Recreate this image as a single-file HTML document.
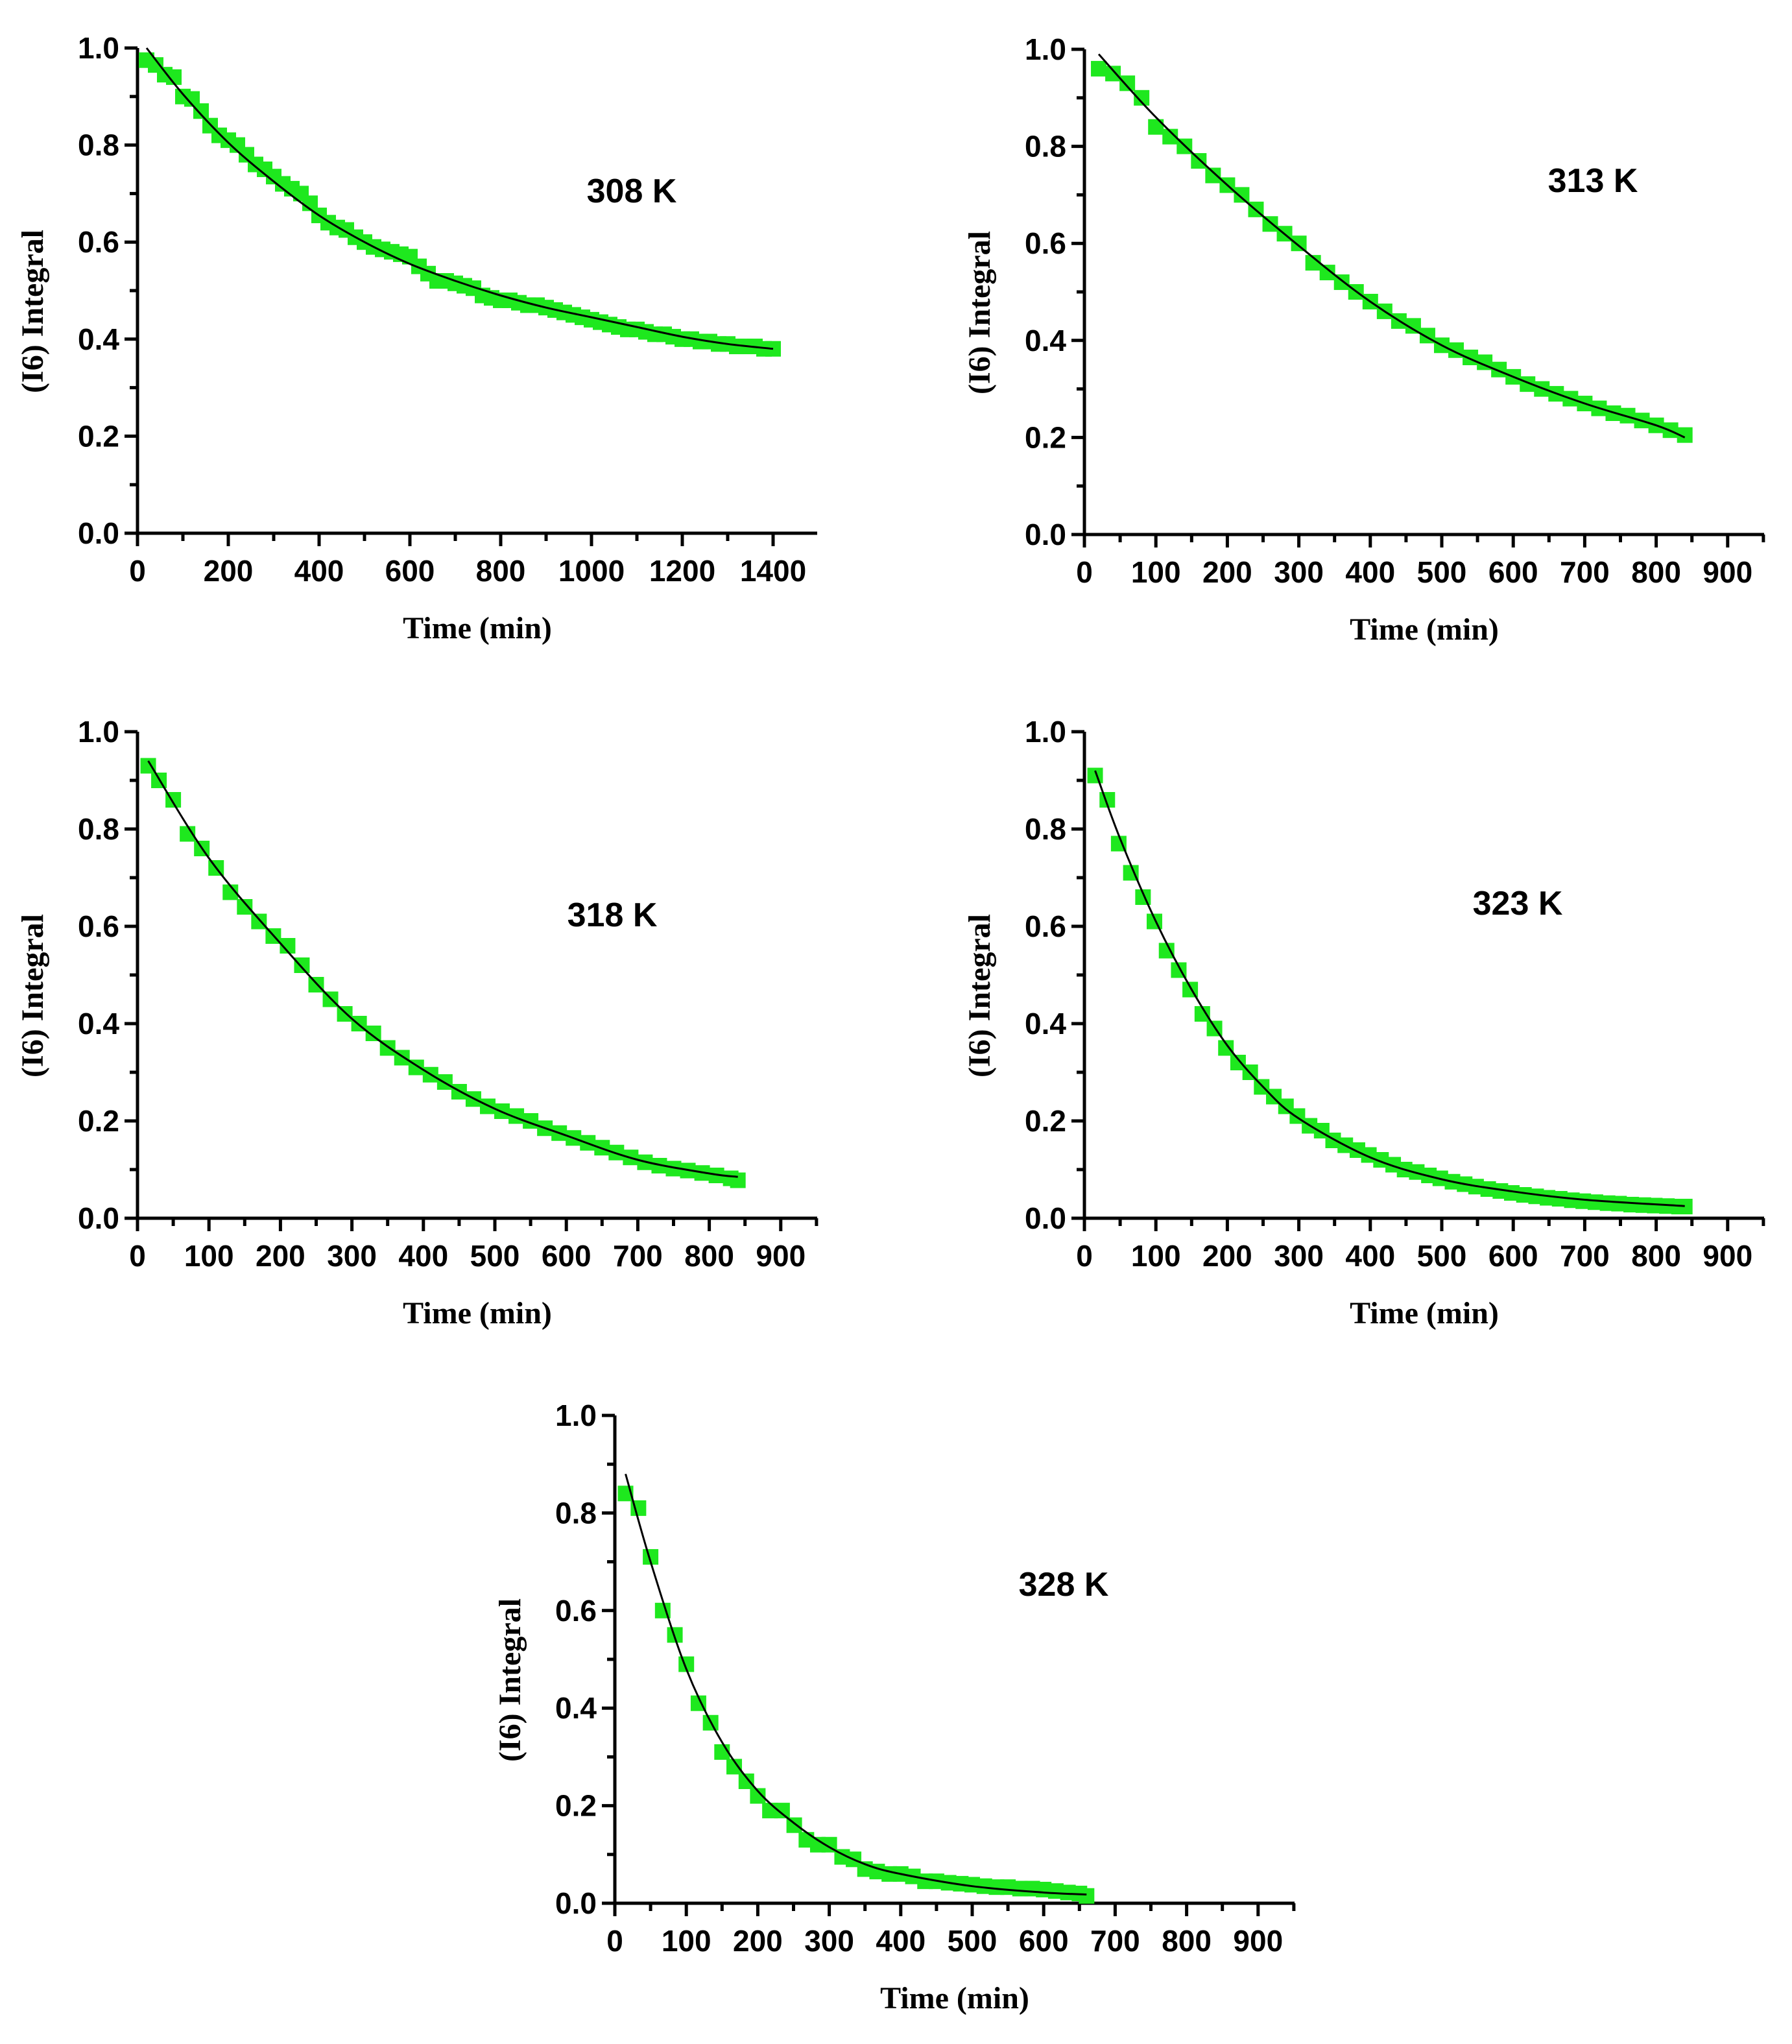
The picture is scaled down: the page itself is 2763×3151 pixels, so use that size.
<!DOCTYPE html>
<html><head><meta charset="utf-8"><style>
html,body{margin:0;padding:0;background:#fff;}
svg{display:block;}
.tk{font-family:"Liberation Sans",Arial,sans-serif;font-weight:bold;font-size:46px;fill:#000;}
.tt{font-family:"Liberation Serif","Times New Roman",serif;font-weight:bold;font-size:48px;fill:#000;}
.lb{font-family:"Liberation Sans",Arial,sans-serif;font-weight:bold;font-size:52px;fill:#000;}
</style></head><body>
<svg id="fig" width="2763" height="3151" viewBox="0 0 2763 3151" xmlns="http://www.w3.org/2000/svg"></svg>
<script>
// ---- data (time in min, integral values) ----
const t308 = [20,40,60,80,100,120,140,160,180,200,220,240,260,280,300,320,340,360,380,400,420,440,460,480,500,520,540,560,580,600,620,640,660,680,700,720,740,760,780,800,820,840,860,880,900,920,940,960,980,1000,1020,1040,1060,1080,1100,1120,1140,1160,1180,1200,1220,1240,1260,1280,1300,1320,1340,1360,1380,1400];
const y308 = [0.975,0.965,0.945,0.94,0.90,0.895,0.87,0.84,0.82,0.81,0.80,0.78,0.76,0.75,0.735,0.72,0.71,0.70,0.68,0.655,0.64,0.63,0.625,0.61,0.60,0.59,0.585,0.58,0.575,0.57,0.55,0.535,0.52,0.52,0.515,0.51,0.505,0.49,0.485,0.48,0.48,0.475,0.47,0.47,0.465,0.46,0.455,0.45,0.445,0.44,0.435,0.43,0.425,0.42,0.42,0.415,0.41,0.41,0.405,0.40,0.40,0.395,0.395,0.39,0.39,0.385,0.385,0.385,0.38,0.38];
const fitT308 = [20,100,200,300,400,500,600,700,800,900,1000,1100,1200,1300,1400];
const fitY308 = [1.0,0.905,0.805,0.725,0.655,0.60,0.555,0.52,0.49,0.465,0.445,0.425,0.405,0.39,0.38];

const t313 = [20,40,60,80,100,120,140,160,180,200,220,240,260,280,300,320,340,360,380,400,420,440,460,480,500,520,540,560,580,600,620,640,660,680,700,720,740,760,780,800,820,840];
const y313 = [0.96,0.95,0.93,0.90,0.84,0.82,0.80,0.77,0.74,0.72,0.70,0.67,0.64,0.62,0.60,0.56,0.54,0.52,0.50,0.48,0.46,0.44,0.43,0.41,0.39,0.38,0.365,0.355,0.34,0.325,0.31,0.30,0.29,0.28,0.27,0.26,0.25,0.245,0.235,0.225,0.215,0.205];
const fitT313 = [20,100,200,300,400,500,600,700,800,840];
const fitY313 = [0.99,0.86,0.72,0.595,0.48,0.39,0.325,0.27,0.225,0.20];

const t318 = [15,30,50,70,90,110,130,150,170,190,210,230,250,270,290,310,330,350,370,390,410,430,450,470,490,510,530,550,570,590,610,630,650,670,690,710,730,750,770,790,810,830,840];
const y318 = [0.93,0.90,0.86,0.79,0.76,0.72,0.67,0.64,0.61,0.58,0.56,0.52,0.48,0.45,0.42,0.40,0.38,0.35,0.33,0.31,0.295,0.28,0.26,0.245,0.23,0.22,0.21,0.20,0.185,0.175,0.165,0.155,0.145,0.135,0.125,0.115,0.108,0.102,0.098,0.093,0.088,0.082,0.078];
const fitT318 = [15,100,200,300,400,500,600,700,800,840];
const fitY318 = [0.94,0.74,0.565,0.41,0.305,0.225,0.17,0.12,0.092,0.085];

const t323 = [15,32,48,65,82,98,115,132,148,165,182,198,215,232,248,265,282,298,315,332,348,365,382,398,415,432,448,465,482,498,515,532,548,565,582,598,615,632,648,665,682,698,715,732,748,765,782,798,815,832,840];
const y323 = [0.91,0.86,0.77,0.71,0.66,0.61,0.55,0.51,0.47,0.42,0.39,0.35,0.32,0.30,0.27,0.25,0.23,0.21,0.19,0.18,0.16,0.15,0.14,0.13,0.12,0.11,0.10,0.095,0.088,0.082,0.075,0.07,0.065,0.06,0.056,0.052,0.048,0.045,0.042,0.04,0.037,0.035,0.033,0.031,0.03,0.028,0.027,0.026,0.025,0.024,0.024];
const fitT323 = [15,50,100,150,200,250,300,400,500,600,700,840];
const fitY323 = [0.92,0.78,0.61,0.47,0.355,0.27,0.205,0.125,0.08,0.055,0.038,0.025];

const t328 = [15,33,50,67,84,100,117,134,150,167,184,200,217,234,251,268,284,300,318,334,350,367,384,400,417,434,450,467,484,500,517,534,550,567,584,600,617,634,650,660];
const y328 = [0.84,0.81,0.71,0.60,0.55,0.49,0.41,0.37,0.31,0.28,0.25,0.22,0.19,0.19,0.16,0.13,0.12,0.12,0.095,0.09,0.07,0.065,0.06,0.06,0.055,0.045,0.045,0.042,0.04,0.038,0.035,0.033,0.033,0.03,0.03,0.028,0.025,0.022,0.02,0.015];
const fitT328 = [15,50,100,150,200,250,300,350,400,500,600,660];
const fitY328 = [0.88,0.70,0.48,0.33,0.23,0.165,0.115,0.08,0.06,0.035,0.022,0.018];

const xTicks1400 = [0,200,400,600,800,1000,1200,1400];
const xTicks900 = [0,100,200,300,400,500,600,700,800,900];
const yTicks = [0.0,0.2,0.4,0.6,0.8,1.0];
const labels = ["308 K","313 K","318 K","323 K","328 K"];

// ---- layout ----
const NS = "http://www.w3.org/2000/svg";
const svg = document.getElementById('fig');
function mk(tag, attrs, parent){const e=document.createElementNS(NS,tag);for(const k in attrs)e.setAttribute(k,attrs[k]);(parent||svg).appendChild(e);return e;}

const panels = [
 {ox:212,oy:822,top:74,xmax:1400,step:200,minor:100,end:1260,ticks:xTicks1400,t:t308,y:y308,ft:fitT308,fy:fitY308,lab:labels[0],lx:974,ly:294,name:'308k'},
 {ox:1672,oy:824,top:76,xmax:900,step:100,minor:50,end:2720,ticks:xTicks900,t:t313,y:y313,ft:fitT313,fy:fitY313,lab:labels[1],lx:2456,ly:278,name:'313k'},
 {ox:212,oy:1878,top:1128,xmax:900,step:100,minor:50,end:1260,ticks:xTicks900,t:t318,y:y318,ft:fitT318,fy:fitY318,lab:labels[2],lx:944,ly:1410,name:'318k'},
 {ox:1672,oy:1878,top:1128,xmax:900,step:100,minor:50,end:2720,ticks:xTicks900,t:t323,y:y323,ft:fitT323,fy:fitY323,lab:labels[3],lx:2340,ly:1392,name:'323k'},
 {ox:948,oy:2934,top:2182,xmax:900,step:100,minor:50,end:1996,ticks:xTicks900,t:t328,y:y328,ft:fitT328,fy:fitY328,lab:labels[4],lx:1640,ly:2442,name:'328k'}
];
const pxPerMin = {1400:140/200, 900:110.2/100};

function smoothPath(pts){
  let d='M'+pts[0][0]+','+pts[0][1];
  for(let i=0;i<pts.length-1;i++){
    const p0=pts[Math.max(0,i-1)],p1=pts[i],p2=pts[i+1],p3=pts[Math.min(pts.length-1,i+2)];
    const c1x=p1[0]+(p2[0]-p0[0])/6,c1y=p1[1]+(p2[1]-p0[1])/6;
    const c2x=p2[0]-(p3[0]-p1[0])/6,c2y=p2[1]-(p3[1]-p1[1])/6;
    d+=' C'+c1x.toFixed(1)+','+c1y.toFixed(1)+' '+c2x.toFixed(1)+','+c2y.toFixed(1)+' '+p2[0].toFixed(1)+','+p2[1].toFixed(1);
  }
  return d;
}

panels.forEach(p=>{
  const k = pxPerMin[p.xmax];
  const X = v => p.ox + v*k;
  const Y = v => p.oy - v*(p.oy-p.top);
  const g = mk('g',{});
  
  
  const ax = mk('line',{x1:p.ox,y1:p.oy,x2:p.end,y2:p.oy,stroke:'#000','stroke-width':5},g);
  
  
  const ay = mk('line',{x1:p.ox,y1:p.oy+2,x2:p.ox,y2:p.top,stroke:'#000','stroke-width':5},g);
  
  
  for(let v=0; X(v)<=p.end+1; v+=p.minor){
    const major = (v % p.step)===0;
    mk('line',{x1:X(v),y1:p.oy,x2:X(v),y2:p.oy+(major?20:12),stroke:'#000','stroke-width':5},g);
  }
  p.ticks.forEach(v=>{
    const tx = mk('text',{x:X(v),y:p.oy+74,'text-anchor':'middle',class:'tk'},g);
    tx.textContent = String(v);
    
    
  });
  for(let i=0;i<=10;i++){
    const major = i%2===0;
    mk('line',{x1:p.ox,y1:Y(i/10),x2:p.ox-(major?20:12),y2:Y(i/10),stroke:'#000','stroke-width':5},g);
  }
  yTicks.forEach(v=>{
    const ty = mk('text',{x:p.ox-28,y:Y(v)+16,'text-anchor':'end',class:'tk'},g);
    ty.textContent = v.toFixed(1);
    
    
  });
  const xt = mk('text',{x:(p.ox+p.end)/2,y:p.oy+162,'text-anchor':'middle',class:'tt'},g);
  xt.textContent='Time (min)';
  
  
  const cy=(p.oy+p.top)/2+32, cx=p.ox-146;
  const yt = mk('text',{x:cx,y:cy,'text-anchor':'middle',class:'tt',transform:'rotate(-90 '+cx+' '+cy+')'},g);
  yt.textContent='(I6) Integral';
  
  
  const lt = mk('text',{x:p.lx,y:p.ly+18,'text-anchor':'middle',class:'lb'},g);
  lt.textContent=p.lab;
  
  
  p.t.forEach((tv,i)=>{
    const r = mk('rect',{x:X(tv)-12,y:Y(p.y[i])-12,width:24,height:24,fill:'#1ee81e'},g);
    
    
  });
  const pts = p.ft.map((tv,i)=>[X(tv),Y(p.fy[i])]);
  const fl = mk('path',{d:smoothPath(pts),fill:'none',stroke:'#000','stroke-width':3},g);
  
  
});
</script>
</body></html>
